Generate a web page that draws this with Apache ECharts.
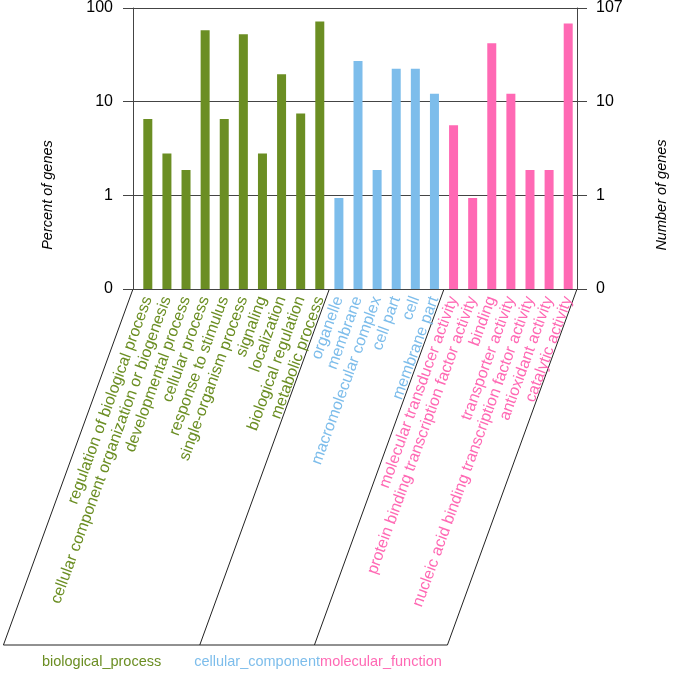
<!DOCTYPE html>
<html><head><meta charset="utf-8">
<script src="https://cdn.jsdelivr.net/npm/echarts@6/dist/echarts.min.js"></script>
<style>html,body{margin:0;padding:0;background:#fff}#c{width:675px;height:673px}</style>
</head><body><div id="c"></div>
<script>
// ---- data ----
const bpTerms = ['regulation of biological process','cellular component organization or biogenesis','developmental process','cellular process','response to stimulus','single-organism process','signaling','localization','biological regulation','metabolic process'];
const bpCounts = [7, 3, 2, 62, 7, 56, 3, 21, 8, 77];
const ccTerms = ['organelle','membrane','macromolecular complex','cell part','cell','membrane part'];
const ccCounts = [1, 29, 2, 24, 24, 13];
const mfTerms = ['molecular transducer activity','protein binding transcription factor activity','binding','transporter activity','nucleic acid binding transcription factor activity','antioxidant activity','catalytic activity'];
const mfCounts = [6, 1, 45, 13, 2, 2, 73];
const totalGenes = 107;
const groupNames = ['biological_process','cellular_component','molecular_function'];
const groupColors = ['#6B8E23','#7DBDEB','#FF69B4'];
const leftTickLabels = {'0.1':'0','1':'1','10':'10','100':'100'};
const rightTickLabels = {'0.1':'0','1':'1','10':'10','100':'107'};

// ---- build ----
const groups = [[bpTerms,bpCounts],[ccTerms,ccCounts],[mfTerms,mfCounts]];
const terms = [], termColor = [], barData = [], groupRanges = [];
groups.forEach((g, gi) => {
  const start = terms.length;
  g[0].forEach((t, k) => {
    const idx = terms.length;
    terms.push(t); termColor.push(groupColors[gi]);
    barData.push({value: [idx, g[1][k] / totalGenes * 100], itemStyle: {color: groupColors[gi]}});
  });
  groupRanges.push([start, terms.length - 1]);
});
const xMin = -0.775, xMax = 22.46;
const FONT = 'Liberation Sans, Arial, sans-serif';
const axisCol = '#444';
function fmtTick(map) { return v => { const k = String(+v.toPrecision(3)); return map[k] !== undefined ? map[k] : ''; }; }

const chart = echarts.init(document.getElementById('c'), null, {renderer: 'canvas'});
chart.setOption({
  animation: false,
  backgroundColor: '#fff',
  grid: {left: 133, right: 98, top: 8, bottom: 384, containLabel: false},
  xAxis: {
    type: 'value', min: xMin, max: xMax,
    axisLine: {show: true, onZero: false, lineStyle: {color: axisCol, width: 1}},
    axisTick: {show: false},
    splitLine: {show: false},
    axisLabel: {
      customValues: terms.map((t, i) => i),
      rotate: 70, margin: 8, fontSize: 16, fontFamily: FONT,
      formatter: v => terms[Math.round(v)] || '',
      color: v => termColor[Math.round(v)] || '#000'
    }
  },
  yAxis: [{
    type: 'log', logBase: 10, min: 0.1, max: 100, startValue: 0.1, position: 'left',
    axisLine: {show: true, onZero: false, lineStyle: {color: axisCol, width: 1}},
    axisTick: {show: true, length: 10, lineStyle: {color: axisCol}},
    axisLabel: {fontSize: 16, fontFamily: FONT, color: '#000', margin: 20, formatter: fmtTick(leftTickLabels)},
    splitLine: {show: true, lineStyle: {color: axisCol, width: 1}},
    minorTick: {show: false}
  }, {
    type: 'log', logBase: 10, min: 0.1, max: 100, startValue: 0.1, position: 'right',
    axisLine: {show: true, onZero: false, lineStyle: {color: axisCol, width: 1}},
    axisTick: {show: true, length: 10, lineStyle: {color: axisCol}},
    axisLabel: {fontSize: 16, fontFamily: FONT, color: '#000', margin: 19, formatter: fmtTick(rightTickLabels)},
    splitLine: {show: false}
  }],
  series: [{
    type: 'bar', xAxisIndex: 0, yAxisIndex: 0, barWidth: 9,
    data: barData
  }]
});

// decorative group frames below the axis
const yBase = chart.convertToPixel({xAxisIndex: 0, yAxisIndex: 0}, [0, 0.1])[1];
const yBottom = 645;
const slant = (yBottom - yBase) / Math.tan(70 * Math.PI / 180);
const bounds = [xMin];
for (let g = 0; g < groupRanges.length - 1; g++) bounds.push((groupRanges[g][1] + groupRanges[g + 1][0]) / 2);
bounds.push(xMax);
const topX = bounds.map(b => chart.convertToPixel({xAxisIndex: 0, yAxisIndex: 0}, [b, 0.1])[0]);
const graphics = [];
topX.forEach(x => {
  graphics.push({type: 'line', shape: {x1: x, y1: yBase, x2: x - slant, y2: yBottom}, style: {stroke: '#222', lineWidth: 1}, silent: true});
});
graphics.push({type: 'line', shape: {x1: topX[0] - slant, y1: yBottom, x2: topX[topX.length - 1] - slant, y2: yBottom}, style: {stroke: '#222', lineWidth: 1}, silent: true});
groupNames.forEach((n, i) => {
  const cx = ((topX[i] + topX[i + 1]) / 2) - slant;
  graphics.push({type: 'text', x: cx, y: 662, silent: true,
    style: {text: n, fill: groupColors[i], font: '14.5px ' + FONT, textAlign: 'center', textVerticalAlign: 'middle'}});
});
graphics.push({type: 'text', x: 48, y: 195, rotation: Math.PI / 2, silent: true,
  style: {text: 'Percent of genes', fill: '#000', font: 'italic 14.5px ' + FONT, textAlign: 'center', textVerticalAlign: 'middle'}});
graphics.push({type: 'text', x: 662, y: 195, rotation: Math.PI / 2, silent: true,
  style: {text: 'Number of genes', fill: '#000', font: 'italic 14.5px ' + FONT, textAlign: 'center', textVerticalAlign: 'middle'}});
chart.setOption({graphic: graphics});
</script>
</body></html>
